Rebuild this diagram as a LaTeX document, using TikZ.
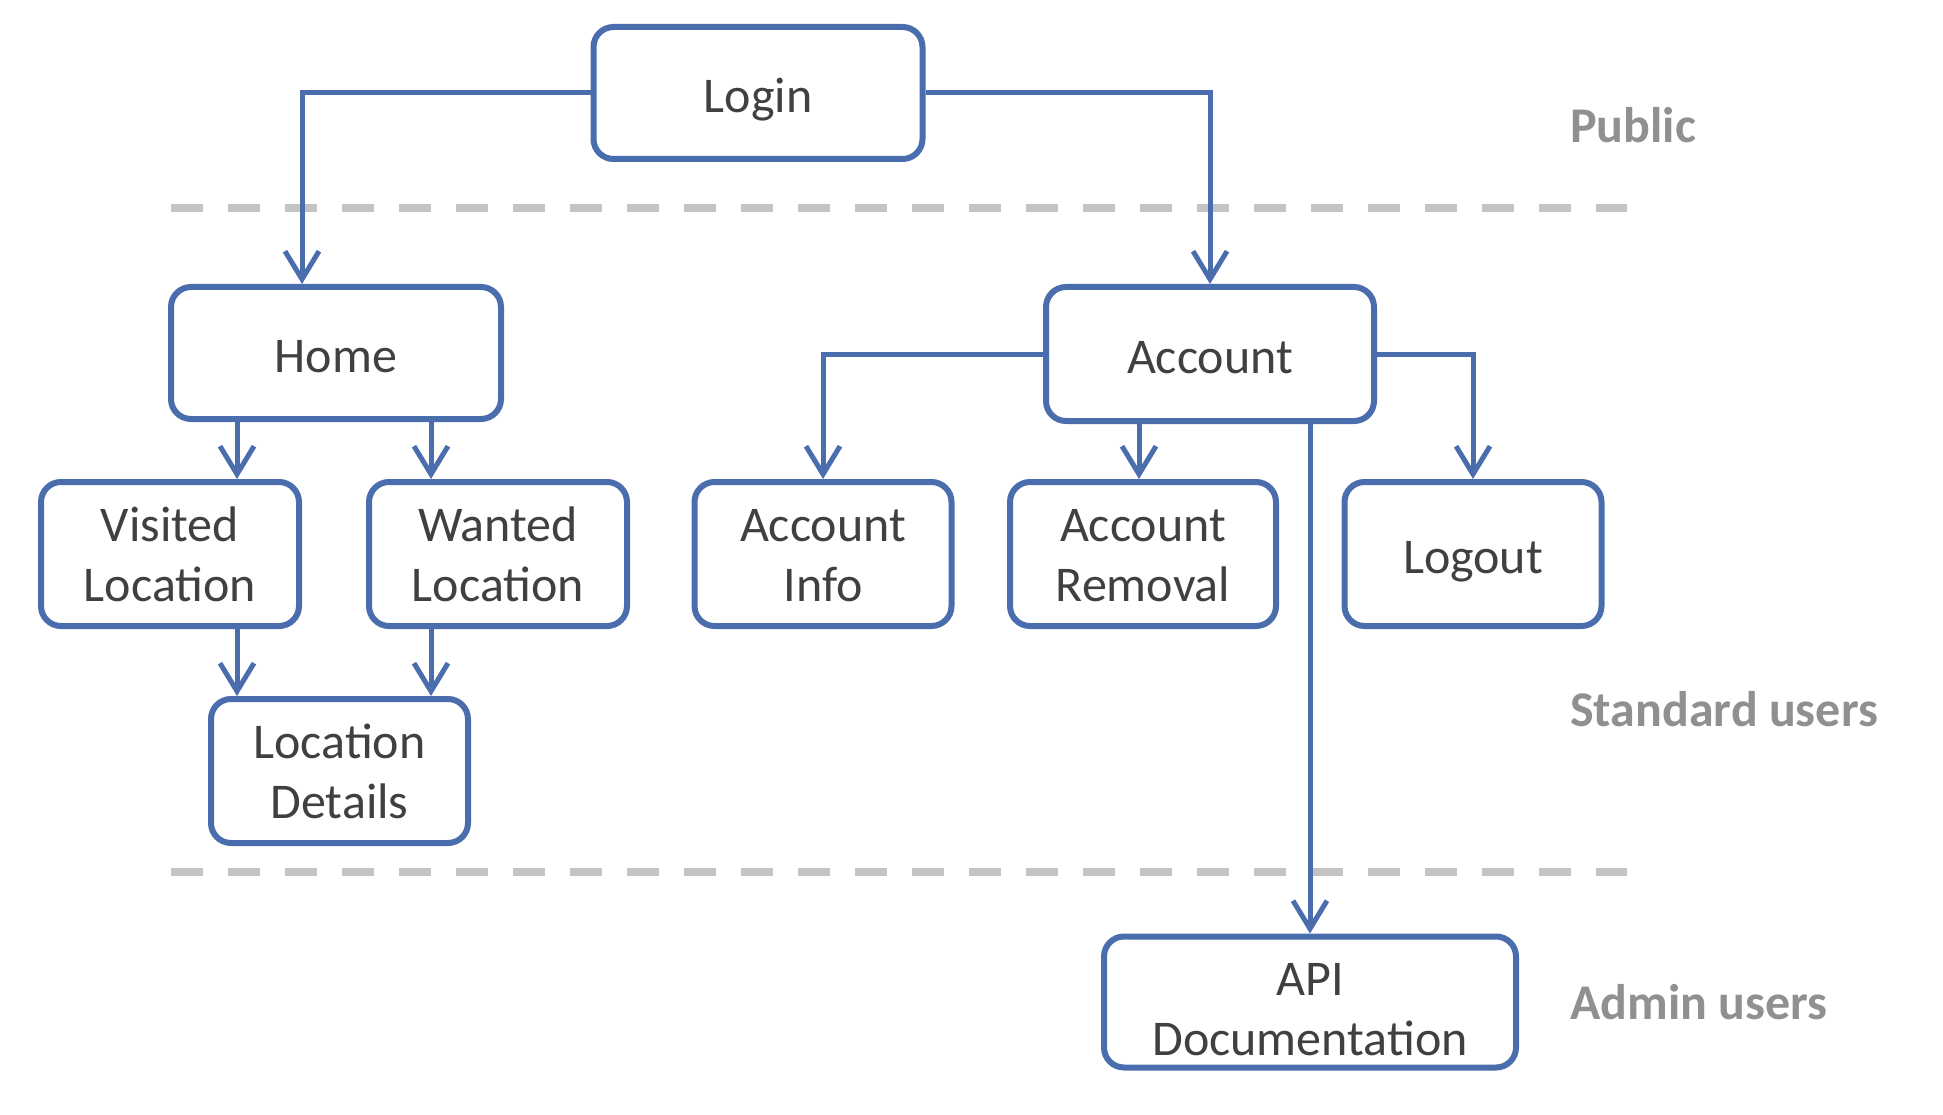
\documentclass[tikz,border=0pt]{standalone}
\usepackage{fontspec}
\setmainfont{Carlito}
\usetikzlibrary{arrows.meta}
\definecolor{boxblue}{HTML}{4A6DAD}
\definecolor{txtgray}{HTML}{404040}
\definecolor{lblgray}{HTML}{909090}
\definecolor{dashgray}{HTML}{C4C4C4}
\tikzset{
  pagebox/.style={draw=boxblue, line width=6pt, rounded corners=20pt, fill=white,
    text=txtgray, align=center, inner sep=0pt, font=\fontsize{50}{60}\selectfont},
  oneline/.style={text height=39pt, text depth=0pt},
  conn/.style={draw=boxblue, line width=5pt, -{Straight Barb[length=28pt,width=34pt,line width=5pt]}},
  sep/.style={draw=dashgray, line width=8pt, dash pattern=on 32pt off 25pt},
  lvl/.style={anchor=west, text=lblgray, font=\bfseries\fontsize{50}{60}\selectfont, inner sep=0pt}
}
\begin{document}
\begin{tikzpicture}[x=1pt,y=-1pt]
\useasboundingbox (0,0) rectangle (1943,1115);
% separators
\coordinate (s1a) at (171,208); \coordinate (s1b) at (1627,208);
\coordinate (s2a) at (171,872); \coordinate (s2b) at (1627,872);
\draw[sep] (s1a) -- (s1b);
\draw[sep] (s2a) -- (s2b);
% nodes
\node[pagebox, oneline, minimum width=329pt, minimum height=132pt] (login) at (758,93) {Login};
\node[pagebox, oneline, minimum width=330pt, minimum height=132pt] (home) at (336,353) {Home};
\node[pagebox, oneline, minimum width=328pt, minimum height=134pt] (acct) at (1210,354) {Account};
\node[pagebox, minimum width=258pt, minimum height=144pt] (visited) at (170,554) {Visited\\Location};
\node[pagebox, minimum width=258pt, minimum height=144pt] (wanted) at (498,554) {Wanted\\Location};
\node[pagebox, minimum width=257pt, minimum height=144pt] (ainfo) at (823,554) {\rule{0pt}{36pt}Account\\Info};
\node[pagebox, minimum width=266pt, minimum height=144pt] (aremoval) at (1143,554) {\rule{0pt}{36pt}Account\\Removal};
\node[pagebox, oneline, minimum width=257pt, minimum height=144pt] (logout) at (1473,554) {Logout};
\node[pagebox, minimum width=257pt, minimum height=144pt] (details) at (339.5,771) {Location\\Details};
\node[pagebox, minimum width=412pt, minimum height=131pt] (api) at (1310,1002) {\rule{0pt}{47pt}API\\Documentation};
% level labels
\node[lvl] (lpub) at (1570,125) {Public};
\node[lvl] (lstd) at (1570,709) {Standard users};
\node[lvl] (ladm) at (1570,1002) {Admin users};
% column coordinates
\coordinate (xh) at (302,0);
\coordinate (xa) at (237,0);
\coordinate (xb) at (431,0);
\coordinate (xr) at (1139,0);
% connectors
\draw[conn] (login.west) -| (home.north -| xh);
\draw[conn] (login.east) -| (acct.north);
\draw[conn] (home.south -| xa) -- (visited.north -| xa);
\draw[conn] (home.south -| xb) -- (wanted.north -| xb);
\draw[conn] (visited.south -| xa) -- (details.north -| xa);
\draw[conn] (wanted.south -| xb) -- (details.north -| xb);
\draw[conn] (acct.west) -| (ainfo.north);
\draw[conn] (acct.south -| xr) -- (aremoval.north -| xr);
\draw[conn] (acct.east) -| (logout.north);
\draw[conn] (acct.south -| api.north) -- (api.north);
\end{tikzpicture}
\end{document}
